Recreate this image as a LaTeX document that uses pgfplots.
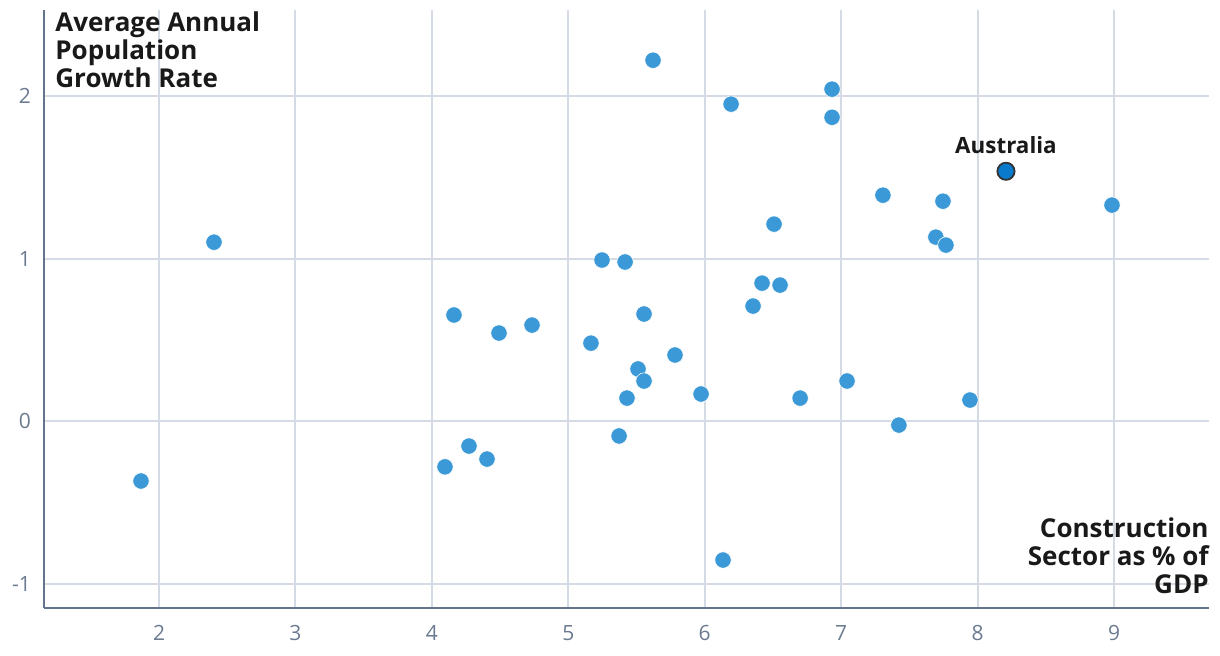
\documentclass[border=0pt]{standalone}
\usepackage{fontspec}
\setmainfont{Open Sans}
\usepackage{pgfplots}
\pgfplotsset{compat=1.18}
\definecolor{dotblue}{RGB}{58,153,214}
\definecolor{ausblue}{RGB}{10,122,204}
\definecolor{gridc}{RGB}{213,219,228}
\definecolor{axisc}{RGB}{100,116,139}
\definecolor{tickc}{RGB}{107,122,144}

\begin{document}
\begin{tikzpicture}
\begin{axis}[
    scale only axis,
    width=582.5pt, height=299pt,
    xmin=1.157, xmax=9.696, ymin=-1.148, ymax=2.53,
    xtick={2,...,9}, ytick={-1,0,1,2},
    axis x line*=bottom, axis y line*=left,
    axis line style={axisc, line width=1pt, -},
    major tick length=0pt,
    grid=major,
    major grid style={gridc, line width=1pt},
    tick label style={font=\fontsize{10.5}{12}\selectfont, text=tickc},
    /pgf/number format/assume math mode=true,
    xticklabel style={yshift=-5pt},
    yticklabel style={xshift=-3pt},
    clip=false,
]
% other countries
\addplot[only marks, mark=*, mark size=4.1pt,
    mark options={fill=dotblue, draw=white, line width=0.3pt}] coordinates {
(1.868,-0.367) (2.403,1.102) (4.096,-0.280) (4.272,-0.152) (4.404,-0.232)
(4.162,0.654) (4.492,0.543) (4.734,0.592) (5.166,0.481) (5.247,0.992)
(5.416,0.980) (5.621,2.221) (5.555,0.660) (5.511,0.322) (5.555,0.248)
(5.430,0.143) (5.372,-0.090) (5.782,0.408) (5.973,0.168) (6.134,-0.853)
(6.193,1.951) (6.354,0.709) (6.420,0.850) (6.552,0.838) (6.508,1.213)
(6.699,0.143) (6.933,2.043) (6.933,1.870) (7.043,0.248) (7.306,1.391)
(7.423,-0.023) (7.694,1.133) (7.768,1.084) (7.746,1.354) (7.944,0.131)
(8.985,1.330)
};
% Australia
\addplot[only marks, mark=*, mark size=4.3pt,
    mark options={fill=ausblue, draw=black!80, line width=0.9pt}] coordinates {(8.208,1.538)}
    node[above, yshift=5pt, font=\fontsize{11.2}{13}\selectfont\bfseries, text=black!90] {Australia};
\node[anchor=north west, align=left, inner sep=0pt, font=\fontsize{13}{14}\selectfont\bfseries, text=black!90]
    at ([xshift=5.5pt, yshift=-0.5pt]rel axis cs:0,1) {Average Annual\\Population\\Growth Rate};
\node[anchor=south east, align=right, inner sep=0pt, font=\fontsize{13}{14}\selectfont\bfseries, text=black!90]
    at ([yshift=7pt]rel axis cs:1,0) {Construction\\Sector as \% of\\GDP};
\end{axis}
\pgfresetboundingbox
\path[use as bounding box] (-22pt,-24pt) rectangle (588pt,304pt);
\end{tikzpicture}
\end{document}
